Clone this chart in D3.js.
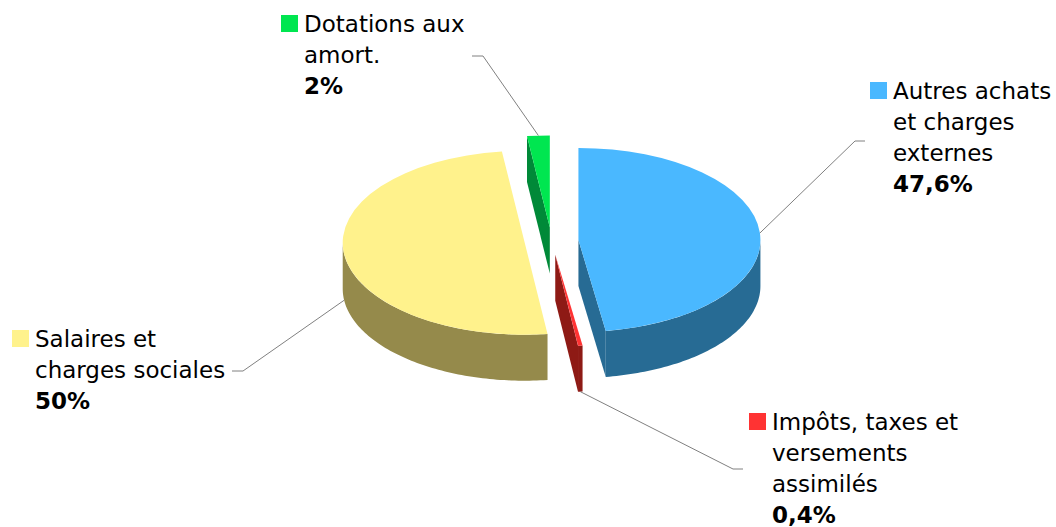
<!DOCTYPE html>
<html>
<head>
<meta charset="utf-8">
<script src="https://cdn.jsdelivr.net/npm/d3@7"></script>
<style>
  body { margin: 0; background: #fff; }
  text { font-family: "DejaVu Sans", Verdana, sans-serif; font-size: 23px; fill: #000; }
</style>
</head>
<body>
<svg id="chart"></svg>
<script>
// data
const categories = ["Autres achats et charges externes", "Impôts, taxes et versements assimilés", "Salaires et charges sociales", "Dotations aux amort."];
const labelLines = [["Autres achats", "et charges", "externes"], ["Impôts, taxes et", "versements", "assimilés"], ["Salaires et", "charges sociales"], ["Dotations aux", "amort."]];
const values = [47.6, 0.4, 50, 2];
const valueLabels = ["47,6%", "0,4%", "50%", "2%"];
const topColors = ["#4ab8ff", "#ff3333", "#fff28c", "#00e650"];
const sideColors = ["#276b94", "#8e1a15", "#958a4b", "#008938"];

// layout
const width = 1056, height = 527;
const center = {x: 551.5, y: 241};
const rx = 182, ry = 92, k = ry / rx;
const depth = 46, explode = 27;
// label block: text x, first baseline, leader elbow and end
const labelLayout = [
    {x: 893, y: 99, kx: 855, ex: 865, ey: 141},
    {x: 772, y: 430, kx: 733, ex: 743, ey: 469},
    {x: 35, y: 347, kx: 243, ex: 232, ey: 371},
    {x: 304, y: 32, kx: 483, ex: 472, ey: 56}
];
const lineHeight = 31;

const svg = d3.select("#chart").attr("width", width).attr("height", height);

const pie = d3.pie().sort(null).value(d => d)(values);

const slices = pie.map((p, i) => {
    const mid = (p.startAngle + p.endAngle) / 2;
    return {
        i, a0: p.startAngle, a1: p.endAngle, mid,
        cx: center.x + explode * Math.sin(mid),
        cy: center.y - explode * k * Math.cos(mid)
    };
});

const proj = (s, a, r, z) => [s.cx + r * Math.sin(a), s.cy - r * k * Math.cos(a) + z];
const line = d3.line();
const arcTop = d3.arc().innerRadius(0).outerRadius(rx);

function arcPoints(s, a, b, z) {
    const n = Math.max(2, Math.ceil((b - a) / 0.02));
    return d3.range(n + 1).map(j => proj(s, a + (b - a) * j / n, rx, z));
}

// back slices first
const order = slices.slice().sort((a, b) => a.cy - b.cy);

order.forEach(s => {
    const g = svg.append("g");
    // outer wall, front half only
    const lo = Math.max(s.a0, Math.PI / 2), hi = Math.min(s.a1, 3 * Math.PI / 2);
    if (hi > lo) {
        const pts = arcPoints(s, lo, hi, 0).concat(arcPoints(s, lo, hi, depth).reverse());
        g.append("path").attr("d", line(pts) + "Z").attr("fill", sideColors[s.i]);
    }
    // radial walls
    const walls = [];
    if (Math.sin(s.a0) < -1e-6) walls.push(s.a0);
    if (Math.sin(s.a1) > 1e-6) walls.push(s.a1);
    walls.forEach(a => {
        const c = [s.cx, s.cy], o = proj(s, a, rx, 0);
        const pts = [c, o, [o[0], o[1] + depth], [c[0], c[1] + depth]];
        g.append("path").attr("d", line(pts) + "Z").attr("fill", sideColors[s.i]);
    });
    // top face
    g.append("path")
        .attr("transform", `translate(${s.cx},${s.cy}) scale(1,${k})`)
        .attr("d", arcTop({startAngle: s.a0, endAngle: s.a1}))
        .attr("fill", topColors[s.i]);
});

// leader lines and labels
slices.forEach(s => {
    const L = labelLayout[s.i];
    const front = Math.cos(s.mid) < 0;
    const start = proj(s, s.mid, rx, front ? depth : 0);
    svg.append("path")
        .attr("d", line([start, [L.kx, L.ey], [L.ex, L.ey]]))
        .attr("fill", "none")
        .attr("stroke", "#808080")
        .attr("stroke-width", 1);

    svg.append("rect")
        .attr("x", L.x - 23).attr("y", L.y - 17)
        .attr("width", 17).attr("height", 17)
        .attr("fill", topColors[s.i]);

    const t = svg.append("text").attr("x", L.x).attr("y", L.y);
    labelLines[s.i].forEach((ln, j) => {
        t.append("tspan").attr("x", L.x).attr("y", L.y + j * lineHeight).text(ln);
    });
    t.append("tspan")
        .attr("x", L.x)
        .attr("y", L.y + labelLines[s.i].length * lineHeight)
        .attr("font-weight", "bold")
        .text(valueLabels[s.i]);
});
</script>
</body>
</html>
